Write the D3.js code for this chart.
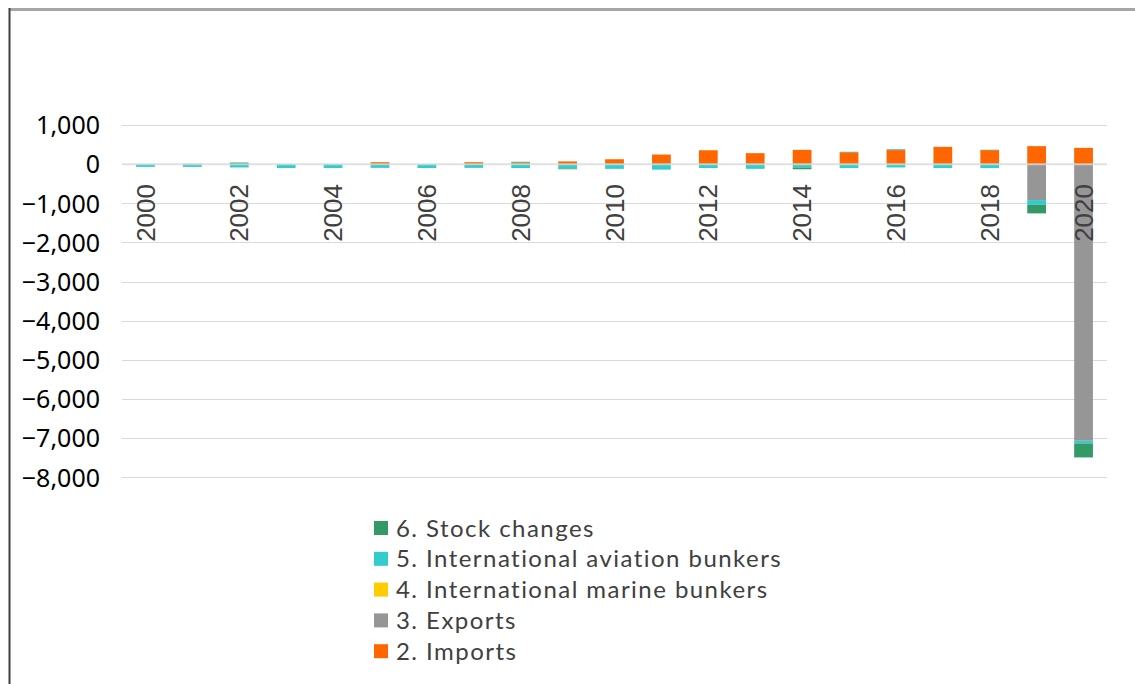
<!DOCTYPE html>
<html>
<head>
<meta charset="utf-8">
<script src="https://cdn.jsdelivr.net/npm/d3@7"></script>
<style>
  body { margin: 0; background: #fff; }
</style>
</head>
<body>
<div id="chart"></div>
<script>
// Data
const YEARS = d3.range(2000, 2021).map(String)
const IMPORTS  = [0, 10, 0, 0, 0, 50, 0, 50, 40, 70, 125, 245, 355, 280, 365, 300, 357, 442, 357, 460, 416]
const EXPORTS  = [0, 0, 0, 0, 0, 0, 0, 0, 0, 0, 0, 0, 0, 0, 0, 0, 0, 0, 0, -918, -7067]
const MARINE   = [0, 0, 0, 0, 0, 0, 0, 0, 0, 0, 0, 0, 0, 0, 0, 0, 0, 0, 0, 0, 0]
const AVIATION = [-70, -70, -85, -100, -100, -95, -100, -95, -100, -110, -120, -140, -100, -120, -85, -100, -85, -100, -100, -120, -68]
const STOCK    = [0, 0, 40, 0, 0, 0, 0, 0, 20, -20, 0, 0, 0, 0, -45, 15, 20, 0, 10, -220, -357]
const Y_TICKS = [1000, 0, -1000, -2000, -3000, -4000, -5000, -6000, -7000, -8000]

const SERIES = [
  { key: 'imports',  label: '2. Imports', values: IMPORTS, color: '#ff6600' },
  { key: 'exports',  label: '3. Exports', values: EXPORTS, color: '#969696' },
  { key: 'marine',   label: '4. International marine bunkers', values: MARINE, color: '#ffcc00' },
  { key: 'aviation', label: '5. International aviation bunkers', values: AVIATION, color: '#33cccc' },
  { key: 'stock',    label: '6. Stock changes', values: STOCK, color: '#339966' }
]

const WIDTH = 1135
const HEIGHT = 684
const PLOT = { left: 122, right: 1107, top: 125, bottom: 477.3 }

const svg = d3.select('#chart')
    .append('svg')
    .attr('width', WIDTH)
    .attr('height', HEIGHT)

// frame
svg.append('rect').attr('x', 9).attr('y', 8).attr('width', WIDTH - 9).attr('height', 3).attr('fill', '#a6a6a6')
svg.append('rect').attr('x', 8.5).attr('y', 8).attr('width', 2).attr('height', HEIGHT - 8).attr('fill', '#404040')

// table for stacking
const table = YEARS.map((y, i) => {
    const row = { year: y }
    SERIES.forEach(s => { row[s.key] = s.values[i] })
    return row
})

const stack = d3.stack()
    .keys(SERIES.map(s => s.key))
    .offset(d3.stackOffsetDiverging)
const layers = stack(table)

// Scales
const xScale = d3.scaleBand()
    .domain(YEARS)
    .range([PLOT.left, PLOT.right])
    .paddingInner(0.6)
    .paddingOuter(0.3)

const yScale = d3.scaleLinear()
    .domain([-8000, 1000])
    .range([PLOT.bottom, PLOT.top])

// Gridlines
svg.append('g')
    .selectAll('line')
    .data(Y_TICKS.filter(t => t !== 0))
    .join('line')
    .attr('x1', PLOT.left)
    .attr('x2', PLOT.right)
    .attr('y1', d => Math.round(yScale(d)) + 0.5)
    .attr('y2', d => Math.round(yScale(d)) + 0.5)
    .attr('stroke', '#d9d9d9')
    .attr('stroke-width', 1)

// Y axis labels
const yAxis = d3.axisLeft(yScale)
    .tickValues(Y_TICKS)
    .tickSize(0)
    .tickPadding(0)
    .tickFormat(d3.format(','))

const yG = svg.append('g')
    .attr('transform', 'translate(100,0)')
    .call(yAxis)
yG.select('.domain').remove()
yG.selectAll('text')
    .attr('font-family', '"Noto Sans", sans-serif')
    .attr('font-size', 25)
    .attr('fill', '#000')
    .attr('dy', '0.35em')

// Bars
svg.append('g')
    .selectAll('g')
    .data(layers)
    .join('g')
    .attr('fill', (d, i) => SERIES[i].color)
    .selectAll('rect')
    .data(d => d)
    .join('rect')
    .attr('x', d => xScale(d.data.year))
    .attr('width', xScale.bandwidth())
    .attr('y', d => yScale(d[1]))
    .attr('height', d => Math.abs(yScale(d[0]) - yScale(d[1])))

// Zero line
svg.append('line')
    .attr('x1', PLOT.left)
    .attr('x2', PLOT.right)
    .attr('y1', yScale(0))
    .attr('y2', yScale(0))
    .attr('stroke', '#d9d9d9')
    .attr('stroke-width', 2)
    .attr('opacity', 0.8)

// X labels (every other year, rotated)
svg.append('g')
    .selectAll('text')
    .data(YEARS.filter((y, i) => i % 2 === 0))
    .join('text')
    .attr('transform', d => `translate(${xScale(d) + xScale.bandwidth() / 2}, 184) rotate(-90)`)
    .attr('text-anchor', 'end')
    .attr('dy', '0.35em')
    .attr('font-family', '"Liberation Sans", Arial, sans-serif')
    .attr('font-size', 26)
    .attr('fill', '#404040')
    .text(d => d)

// Legend
const legendItems = SERIES.slice().reverse()
const legend = svg.append('g')
    .selectAll('g')
    .data(legendItems)
    .join('g')
    .attr('transform', (d, i) => `translate(374, ${528 + i * 30.8})`)

legend.append('rect')
    .attr('x', 0)
    .attr('y', -7)
    .attr('width', 14)
    .attr('height', 14)
    .attr('fill', d => d.color)

legend.append('text')
    .attr('x', 22)
    .attr('dy', '0.36em')
    .attr('font-family', 'Lato, sans-serif')
    .attr('font-size', 24)
    .attr('letter-spacing', 1.45)
    .attr('fill', '#404040')
    .text(d => d.label)
</script>
</body>
</html>
